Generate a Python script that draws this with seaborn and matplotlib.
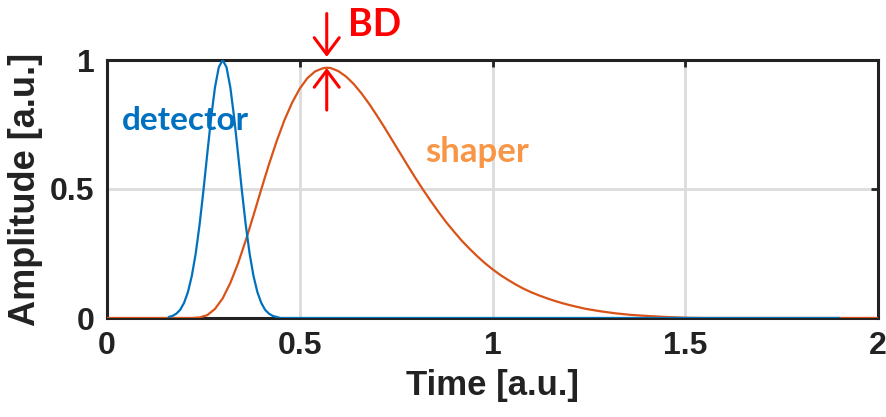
import matplotlib
matplotlib.use("Agg")
import matplotlib.pyplot as plt
import seaborn as sns
import pandas as pd

# Detector pulse (time, amplitude)
detector_t = [0.16, 0.17, 0.18, 0.19, 0.20, 0.21, 0.22, 0.23, 0.24, 0.25,
              0.26, 0.27, 0.28, 0.29, 0.30, 0.31, 0.32, 0.33, 0.34, 0.35,
              0.36, 0.37, 0.38, 0.39, 0.40, 0.41, 0.42, 0.43, 0.44, 0.45, 1.90]
detector_a = [0.004, 0.008, 0.017, 0.032, 0.059, 0.101, 0.163, 0.249, 0.360, 0.492,
              0.635, 0.775, 0.893, 0.972, 1.000, 0.972, 0.893, 0.775, 0.635, 0.492,
              0.360, 0.249, 0.163, 0.101, 0.059, 0.032, 0.017, 0.008, 0.004, 0.000, 0.000]

# Shaper output (time, amplitude)
shaper_t = [0.00, 0.20, 0.22, 0.24, 0.26, 0.28, 0.30, 0.32, 0.34, 0.36, 0.38,
            0.40, 0.42, 0.44, 0.46, 0.48, 0.50, 0.52, 0.54, 0.56, 0.57,
            0.58, 0.60, 0.62, 0.64, 0.66, 0.68, 0.70, 0.72, 0.74, 0.76,
            0.78, 0.80, 0.82, 0.84, 0.86, 0.88, 0.90, 0.92, 0.94, 0.96,
            0.98, 1.00, 1.02, 1.04, 1.06, 1.08, 1.10, 1.12, 1.14, 1.16,
            1.18, 1.20, 1.24, 1.28, 1.32, 1.36, 1.40, 1.45, 1.50, 1.55, 2.00]
shaper_a = [0.000, 0.000, 0.000, 0.002, 0.011, 0.035, 0.076, 0.136, 0.212, 0.301, 0.398,
            0.498, 0.595, 0.685, 0.766, 0.834, 0.889, 0.930, 0.956, 0.968, 0.970,
            0.969, 0.957, 0.936, 0.907, 0.871, 0.830, 0.785, 0.738, 0.689, 0.640,
            0.591, 0.543, 0.497, 0.453, 0.411, 0.371, 0.335, 0.300, 0.269, 0.240,
            0.213, 0.189, 0.167, 0.148, 0.130, 0.114, 0.100, 0.088, 0.077, 0.067,
            0.058, 0.050, 0.036, 0.026, 0.018, 0.012, 0.008, 0.004, 0.001, 0.000, 0.000]

x_ticks = [0, 0.5, 1, 1.5, 2]
x_tick_labels = ["0", "0.5", "1", "1.5", "2"]
y_ticks = [0, 0.5, 1]
y_tick_labels = ["0", "0.5", "1"]

bd_time = 0.57
bd_peak = 0.970

sns.set_theme(style="white")
plt.rcParams["font.family"] = ["Liberation Sans", "DejaVu Sans"]

axis_col = "#222222"
fig = plt.figure(figsize=(8.86, 4.17), dpi=100)
ax = fig.add_axes([107 / 886, 99 / 417, 771 / 886, 258 / 417])

shaper_df = pd.DataFrame({"t": shaper_t, "a": shaper_a})
detector_df = pd.DataFrame({"t": detector_t, "a": detector_a})
sns.lineplot(data=shaper_df, x="t", y="a", ax=ax, color="#D95319", lw=1.6,
             estimator=None, sort=False, zorder=3)
sns.lineplot(data=detector_df, x="t", y="a", ax=ax, color="#0072BD", lw=1.6,
             estimator=None, sort=False, zorder=4)

ax.set_xlim(0, 2)
ax.set_ylim(0, 1)
ax.set_xticks(x_ticks)
ax.set_xticklabels(x_tick_labels)
ax.set_yticks(y_ticks)
ax.set_yticklabels(y_tick_labels)
ax.grid(True, color="#DCDCDC", lw=2.0, zorder=0)
ax.set_axisbelow(True)

for s in ax.spines.values():
    s.set_color(axis_col)
    s.set_linewidth(2.2)
    s.set_zorder(2)
ax.tick_params(direction="in", top=True, right=True, length=5, width=2.0,
               color=axis_col, labelcolor=axis_col, labelsize=23, pad=9)
for lab in ax.get_xticklabels() + ax.get_yticklabels():
    lab.set_fontweight("bold")

ax.set_xlabel("Time [a.u.]", fontsize=25, fontweight="bold", color=axis_col, labelpad=6)
ax.set_ylabel("Amplitude [a.u.]", fontsize=26, fontweight="bold", color=axis_col, labelpad=5)

label_font = ["Lato", "DejaVu Sans"]
ax.text(0.039, 0.729, "detector", color="#0070C0", fontsize=24, fontweight="bold",
        family=label_font, ha="left", va="baseline", zorder=5)
ax.text(0.824, 0.605, "shaper", color="#F79646", fontsize=25, fontweight="bold",
        family=label_font, ha="left", va="baseline", zorder=5)
ax.text(0.624, 1.093, "BD", color="#FF0000", fontsize=27, fontweight="bold",
        family=label_font, ha="left", va="baseline", zorder=5, clip_on=False)

arrow_style = "->,head_length=0.6,head_width=0.45"
ax.annotate("", xy=(bd_time, bd_peak + 0.042), xytext=(bd_time, 1.18),
            arrowprops=dict(arrowstyle=arrow_style, color="#FF0000", lw=2.2,
                            mutation_scale=20, shrinkA=0, shrinkB=0),
            annotation_clip=False, zorder=6)
ax.annotate("", xy=(bd_time, bd_peak - 0.001), xytext=(bd_time, 0.806),
            arrowprops=dict(arrowstyle=arrow_style, color="#FF0000", lw=2.2,
                            mutation_scale=20, shrinkA=0, shrinkB=0),
            annotation_clip=False, zorder=6)

fig.savefig("out.png", dpi=100, facecolor="white")
